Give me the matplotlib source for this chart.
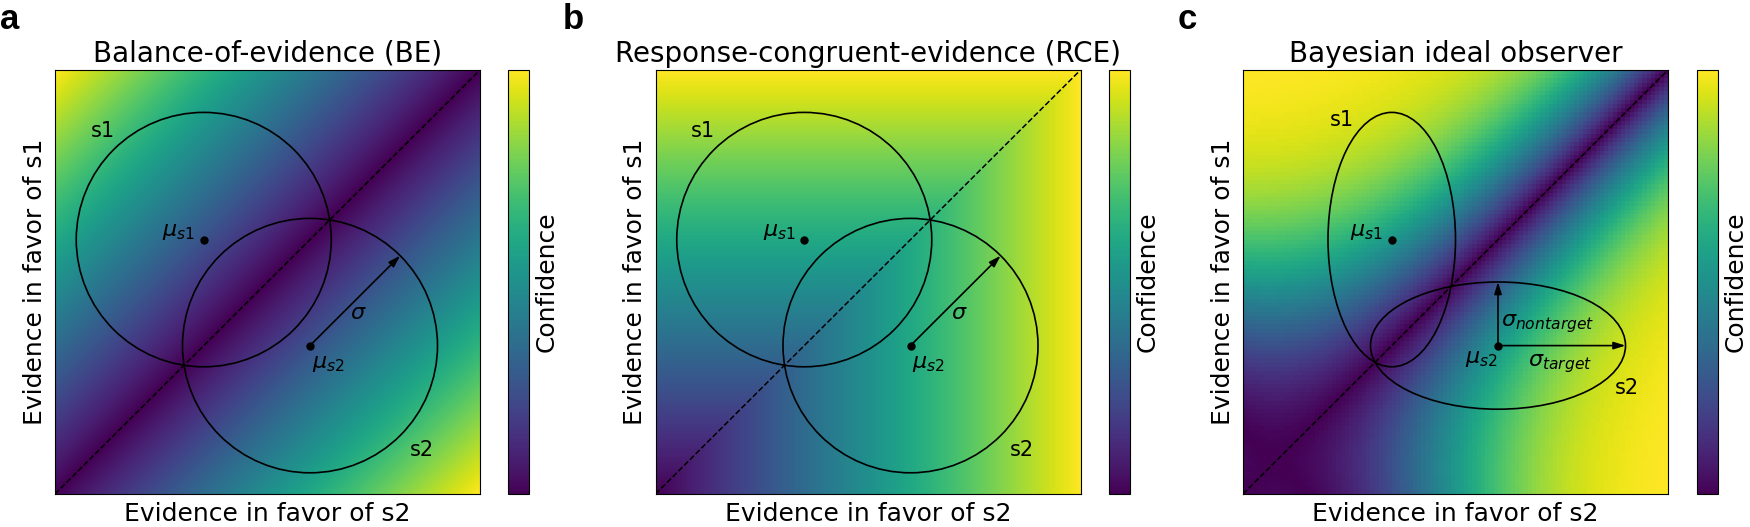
import numpy as np
import matplotlib.pyplot as plt
from matplotlib.patches import Ellipse

# --- Data: evidence space and generative model ---
ev_lim = [-1.4, 2.6]
mu_s1 = [0.0, 1.0]
mu_s2 = [1.0, 0.0]
sigma = 1.2                  # equal-variance model (panels a, b)
sigma_target = 1.2           # unequal-variance model (panel c)
sigma_nontarget = 0.6
# posterior map for panel c: gain, zero line (x+y) and saturation width,
# in units of the axis span
llr_gain = 7.5
llr_s0 = 0.14
llr_width = 1.15
titles = ['Balance-of-evidence (BE)', 'Response-congruent-evidence (RCE)',
          'Bayesian ideal observer']
letters = ['a', 'b', 'c']

# --- Confidence maps ---
span = ev_lim[1] - ev_lim[0]
g = np.linspace(ev_lim[0], ev_lim[1], 400)
X, Y = np.meshgrid(g, g)
conf_be = np.abs(X - Y)
conf_rce = np.maximum(X, Y)

gc = np.linspace(ev_lim[0], ev_lim[1], 100)
Xc, Yc = np.meshgrid(gc, gc)
u = (Xc - Yc) / span
s = (Xc + Yc - 2 * ev_lim[0]) / span
llr = llr_gain * u * np.tanh((s - llr_s0) / llr_width)
conf_bayes = 1 / (1 + np.exp(-np.abs(llr)))

maps = [conf_be, conf_rce, conf_bayes]

# --- Layout (pixels) ---
W, H = 1750, 527
ax_left = [55, 655.5, 1243]
cb_left = [508, 1109, 1697]
ax_w, cb_w = 425, 21
ax_top, ax_bot = 70, 494
letter_x = [0, 563, 1178]

fig = plt.figure(figsize=(W / 100, H / 100), dpi=100)
arrow_kw = dict(arrowstyle='-|>,head_length=0.7,head_width=0.22', color='k',
                lw=1.2, shrinkA=0, shrinkB=0)
ext = [ev_lim[0], ev_lim[1], ev_lim[0], ev_lim[1]]

for i in range(3):
    ax = fig.add_axes([ax_left[i] / W, (H - ax_bot) / H, ax_w / W, (ax_bot - ax_top) / H])
    im = ax.imshow(maps[i], extent=ext, origin='lower', cmap='viridis', aspect='auto',
                   interpolation='nearest' if i == 2 else 'bilinear')
    ax.plot(ev_lim, ev_lim, 'k--', lw=1.1)
    ax.set_xlim(ev_lim)
    ax.set_ylim(ev_lim)
    ax.set_xticks([])
    ax.set_yticks([])
    ax.set_title(titles[i], fontsize=20)
    ax.set_xlabel('Evidence in favor of s2', fontsize=18, labelpad=6)
    ax.set_ylabel('Evidence in favor of s1', fontsize=18, labelpad=6)

    if i < 2:
        ax.add_patch(Ellipse(mu_s1, 2 * sigma, 2 * sigma, fill=False, ec='k', lw=1.2))
        ax.add_patch(Ellipse(mu_s2, 2 * sigma, 2 * sigma, fill=False, ec='k', lw=1.2))
        tip = (mu_s2[0] + sigma * np.cos(np.pi / 4), mu_s2[1] + sigma * np.sin(np.pi / 4))
        ax.annotate('', xy=tip, xytext=mu_s2, arrowprops=arrow_kw)
        ax.text(1.456, 0.308, r'$\sigma$', fontsize=16, ha='center', va='center')
        ax.text(-0.952, 2.028, 's1', fontsize=15, ha='center', va='center')
        ax.text(2.052, -0.984, 's2', fontsize=15, ha='center', va='center')
        ax.text(1.016, -0.172, r'$\mu_{s2}$', fontsize=16, ha='left', va='center')
    else:
        ax.add_patch(Ellipse(mu_s1, 2 * sigma_nontarget, 2 * sigma_target, fill=False, ec='k', lw=1.2))
        ax.add_patch(Ellipse(mu_s2, 2 * sigma_target, 2 * sigma_nontarget, fill=False, ec='k', lw=1.2))
        ax.annotate('', xy=(mu_s2[0], mu_s2[1] + sigma_nontarget), xytext=mu_s2, arrowprops=arrow_kw)
        ax.annotate('', xy=(mu_s2[0] + sigma_target, mu_s2[1]), xytext=mu_s2, arrowprops=arrow_kw)
        ax.text(1.03, 0.212, r'$\sigma_{nontarget}$', fontsize=16, ha='left', va='center')
        ax.text(1.284, -0.172, r'$\sigma_{target}$', fontsize=16, ha='left', va='center')
        ax.text(-0.472, 2.132, 's1', fontsize=15, ha='center', va='center')
        ax.text(2.212, -0.404, 's2', fontsize=15, ha='center', va='center')
        ax.text(1.0, -0.124, r'$\mu_{s2}$', fontsize=16, ha='right', va='center')

    ax.text(-0.08, 1.072, r'$\mu_{s1}$', fontsize=16, ha='right', va='center')
    ax.plot(*mu_s1, 'ko', ms=5)
    ax.plot(*mu_s2, 'ko', ms=5)

    cax = fig.add_axes([cb_left[i] / W, (H - ax_bot) / H, cb_w / W, (ax_bot - ax_top) / H])
    cb = fig.colorbar(im, cax=cax)
    cb.set_ticks([])
    cb.set_label('Confidence', fontsize=18)

    fig.text(letter_x[i] / W, 1 - 28.6 / H, letters[i], fontsize=25, fontweight='bold',
             family='Liberation Sans', va='baseline', ha='left')

fig.savefig('out.png', dpi=100)
